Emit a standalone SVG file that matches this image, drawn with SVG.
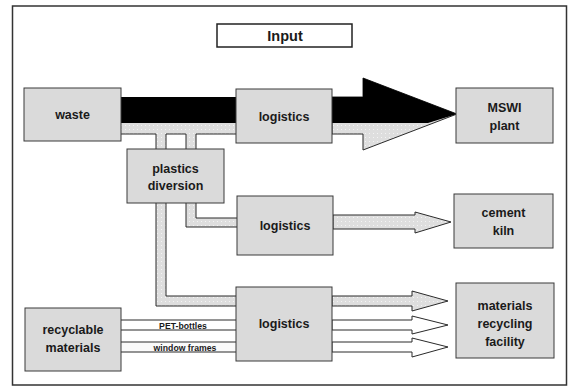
<svg xmlns="http://www.w3.org/2000/svg" width="568" height="387" viewBox="0 0 568 387">
<style>
.box{fill:#dadada;stroke:#3a3a3a;stroke-width:1}
.t{font-family:"Liberation Sans",Arial,sans-serif;font-weight:bold;font-size:12.5px;fill:#1a1a1a;text-anchor:middle}
.s{font-family:"Liberation Sans",Arial,sans-serif;font-weight:bold;font-size:8.7px;fill:#1a1a1a;text-anchor:middle}
.ln{fill:none;stroke:#2a2a2a;stroke-width:1}
.dg{fill:url(#dots);stroke:none}
.ar{fill:url(#dots);stroke:#2a2a2a;stroke-width:1}
.aw{fill:#ffffff;stroke:#2a2a2a;stroke-width:1}
</style>
<defs>
<pattern id="dots" width="4" height="4" patternUnits="userSpaceOnUse">
<rect width="4" height="4" fill="#dedede"/>
<rect x="1" y="1" width="1" height="1" fill="#f4f4f4"/>
</pattern>
</defs>
<rect x="12.5" y="6" width="554" height="379" fill="#ffffff" stroke="#333" stroke-width="1.5"/>
<g id="connectors">
<!-- main arrow left band -->
<rect x="121" y="97" width="115" height="26" fill="#000"/>
<path class="dg" d="M121,123H236V134H196V149H186V134H166V149H156V134H121Z"/>
<path class="ln" d="M121,134H156V149M166,149V134H186V149M196,149V134H236"/>
<!-- main arrow right -->
<polygon class="ar" points="332,97 363,97 363,78 457,114 363,150 363,134 332,134"/>
<polygon fill="#000" points="332,97 363,97 363,78 457,114 428,123 332,123"/>
<!-- diversion to logistics 3 -->
<path class="dg" d="M156,203H166V296H236V306H156Z"/>
<path class="ln" d="M156,203V306H236M166,203V296H236"/>
<!-- diversion to logistics 2 -->
<path class="dg" d="M186,203H196V218H237V227H186Z"/>
<path class="ln" d="M186,203V227H237M196,203V218H237"/>
<!-- cement arrow -->
<polygon class="ar" points="333,215 415,215 415,212 451,222 415,233 415,229 333,229"/>
<!-- recyclable bands -->
<rect x="121" y="320" width="115" height="10" fill="#fff"/>
<path class="ln" d="M121,320H236M121,330H236"/>
<rect x="121" y="342" width="115" height="10" fill="#fafafa"/>
<path class="ln" d="M121,342H236M121,352H236"/>
<text class="s" x="183" y="329">PET-bottles</text>
<text class="s" x="185" y="351">window frames</text>
<!-- MRF arrows -->
<polygon class="ar" points="332,296 412,296 412,291 448,301 412,311 412,306 332,306"/>
<polygon class="aw" points="332,320 412,320 412,316 448,325 412,334 412,330 332,330"/>
<polygon class="aw" points="332,342 412,342 412,338 448,347 412,357 412,352 332,352"/>
</g>
<g id="input"><rect x="217" y="24" width="135" height="23" fill="#fff" stroke="#222" stroke-width="1.5"/><text class="t" style="font-size:14.5px" x="285" y="41">Input</text></g>
<g id="waste"><rect class="box" x="24" y="88" width="97" height="53"/><text class="t" x="72.5" y="119">waste</text></g>
<g id="logistics1"><rect class="box" x="236" y="89" width="96" height="54"/><text class="t" x="284" y="120.5">logistics</text></g>
<g id="mswi"><rect class="box" x="456" y="88" width="97" height="55"/><text class="t" x="504.5" y="112">MSWI</text><text class="t" x="504.5" y="130">plant</text></g>
<g id="plastics"><rect class="box" x="127" y="149" width="97" height="54"/><text class="t" x="175.5" y="172.5">plastics</text><text class="t" x="175.5" y="190">diversion</text></g>
<g id="logistics2"><rect class="box" x="237" y="196" width="96" height="59"/><text class="t" x="285" y="229.5">logistics</text></g>
<g id="cement"><rect class="box" x="454" y="194" width="99" height="54"/><text class="t" x="503.5" y="217">cement</text><text class="t" x="503.5" y="235">kiln</text></g>
<g id="logistics3"><rect class="box" x="236" y="287" width="96" height="74"/><text class="t" x="284" y="327.5">logistics</text></g>
<g id="recyclable"><rect class="box" x="25" y="308" width="96" height="63"/><text class="t" x="73" y="334">recyclable</text><text class="t" x="73" y="352">materials</text></g>
<g id="mrf"><rect class="box" x="456" y="283" width="98" height="75"/><text class="t" x="505" y="310">materials</text><text class="t" x="505" y="328">recycling</text><text class="t" x="505" y="346">facility</text></g>
</svg>
